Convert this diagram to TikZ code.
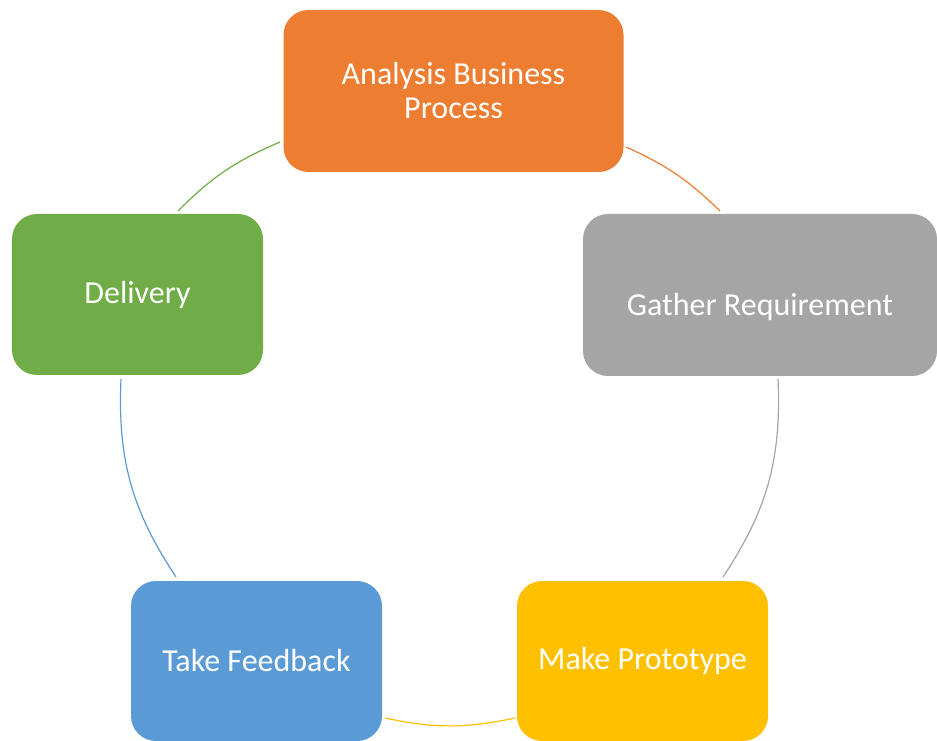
\documentclass[tikz,border=0pt]{standalone}
\usepackage{fontspec}
\setmainfont{Carlito}
\definecolor{corange}{HTML}{ED7D31}
\definecolor{cgray}{HTML}{A5A5A5}
\definecolor{cyellow}{HTML}{FFC000}
\definecolor{cblue}{HTML}{5B9BD5}
\definecolor{cgreen}{HTML}{70AD47}
\begin{document}
\begin{tikzpicture}[x=1pt,y=1pt,
  stage/.style={rounded corners=25pt, inner sep=0pt, text=white, align=center,
    font=\fontsize{32}{34}\selectfont},
  link/.style={line width=1.2pt}]
\useasboundingbox (0,0) rectangle (937,740);
\node[stage, fill=corange, minimum width=340, minimum height=162] (abp) at (453.5,649) {Analysis Business\\Process};
\node[stage, fill=cgray, minimum width=354, minimum height=162] (gr) at (760,445) {};
\node[font=\fontsize{32}{34}\selectfont, text=white] (grt) at (760,433) {Gather Requirement};
\node[stage, fill=cyellow, minimum width=251, minimum height=160] (mp) at (642.5,79) {Make Prototype};
\node[stage, fill=cblue, minimum width=251, minimum height=160] (tf) at (256.5,79) {Take Feedback};
\node[stage, fill=cgreen, minimum width=251, minimum height=161] (dl) at (137.5,445.5) {Delivery};
\coordinate (o1) at (626,593);
\coordinate (o2) at (720,529);
\coordinate (g1) at (778,361);
\coordinate (g2) at (723,163);
\coordinate (y1) at (515,22);
\coordinate (y2) at (385,22);
\coordinate (b1) at (176,163);
\coordinate (b2) at (121,361);
\coordinate (e1) at (178,529);
\coordinate (e2) at (280,598);
\draw[link, corange] (o1) to[bend left=10] (o2);
\draw[link, cgray] (g1) to[bend left=18] (g2);
\draw[link, cyellow] (y1) to[bend left=12] (y2);
\draw[link, cblue] (b1) to[bend left=18] (b2);
\draw[link, cgreen] (e1) to[bend left=11] (e2);
\end{tikzpicture}
\end{document}
